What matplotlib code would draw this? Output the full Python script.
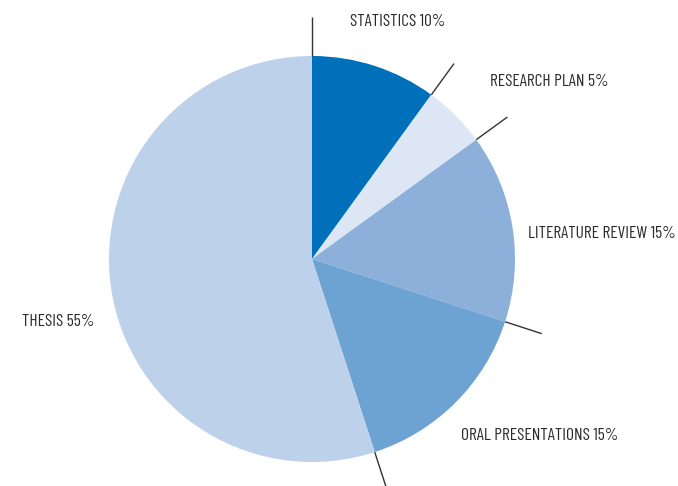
import numpy as np
import matplotlib
matplotlib.use("Agg")
import matplotlib.pyplot as plt
from matplotlib import font_manager

categories = ["STATISTICS", "RESEARCH PLAN", "LITERATURE REVIEW", "ORAL PRESENTATIONS", "THESIS"]
values = [10, 5, 15, 15, 55]
colors = ["#0070BA", "#DDE6F4", "#8DB0DA", "#6DA3D3", "#BDD1EB"]

# label anchor positions in figure pixels (left edge, vertical center)
label_px = [(350, 22), (490, 82), (528, 233), (461, 435), (22, 322)]

names = {f.name for f in font_manager.fontManager.ttflist}
fam = [f for f in ["Barlow Condensed", "Fira Sans Condensed", "DejaVu Sans"] if f in names] or ["DejaVu Sans"]

W, H = 678, 486
fig = plt.figure(figsize=(W / 100, H / 100), dpi=100)
ax = fig.add_axes([0, 0, 1, 1])

cx, cy, R = 312, 259, 203

wedges, _ = ax.pie(values, colors=colors, startangle=90, counterclock=False,
                   radius=1, wedgeprops=dict(linewidth=0))

# leader lines at each slice's starting boundary
total = sum(values)
cum = 0
for v in values:
    ang = np.deg2rad(90 - 360 * cum / total)
    ax.plot([np.cos(ang), 1.19 * np.cos(ang)], [np.sin(ang), 1.19 * np.sin(ang)],
            color="#333333", lw=1.0, solid_capstyle="butt")
    cum += v

ax.set_xlim(-cx / R, (W - cx) / R)
ax.set_ylim(-(H - cy) / R, cy / R)
ax.set_aspect("equal")
ax.axis("off")

for cat, v, (px, py) in zip(categories, values, label_px):
    fig.text(px / W, 1 - py / H, f"{cat} {v}%", ha="left", va="center",
             fontsize=12.5, family=fam, color="#2a2a2a")

fig.savefig("out.png", dpi=100)
